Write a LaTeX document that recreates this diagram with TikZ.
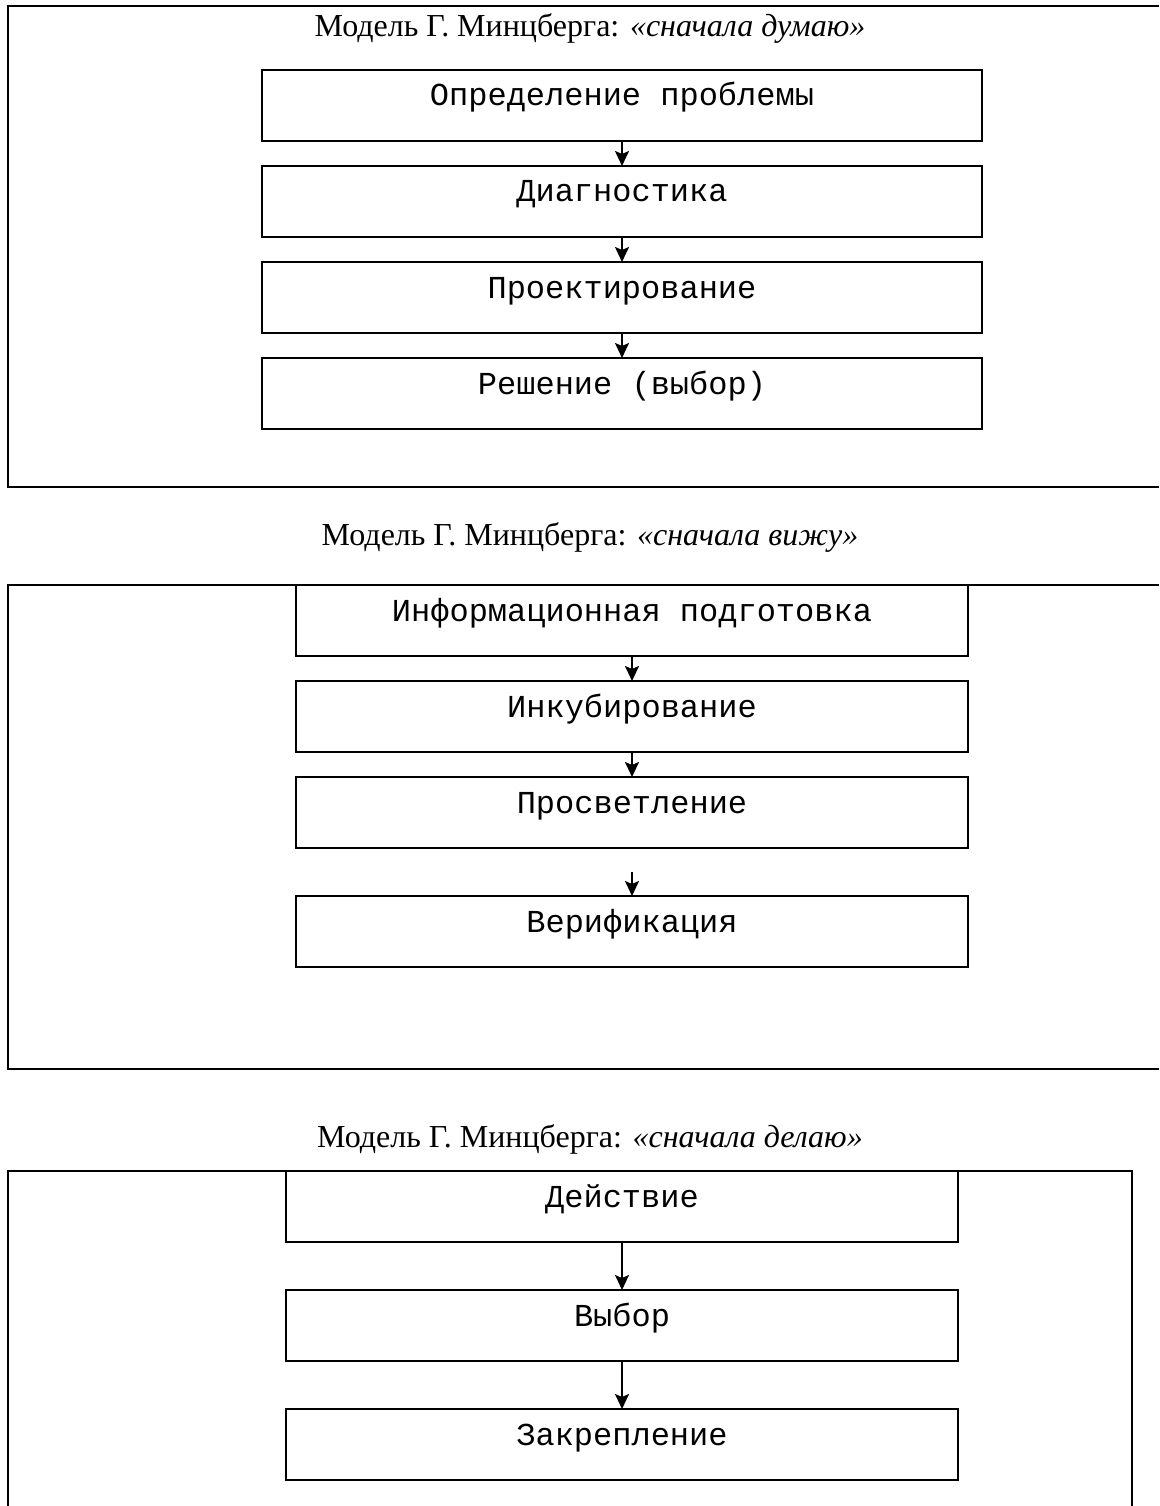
\documentclass[tikz,border=0pt]{standalone}
\usepackage{fontspec}
\setmainfont{Liberation Serif}
\setmonofont{Liberation Mono}
\usetikzlibrary{arrows.meta, positioning}

\begin{document}
\begin{tikzpicture}[
  x=1pt, y=1pt,
  node distance=25pt,
  stagebox/.style={draw, line width=2pt, minimum width=720pt, inner xsep=0pt, inner ysep=0pt, outer sep=0pt,
    text height=36pt, text depth=35pt, anchor=north, font=\fontsize{32}{38}\selectfont\ttfamily},
  heading/.style={anchor=base, inner sep=0pt, font=\fontsize{32}{38}\selectfont},
  frame/.style={line width=2pt},
  arrow/.style={-{Stealth[length=15pt,width=14pt,inset=3pt]}, line width=2pt}
]
\useasboundingbox (0,0) rectangle (1159,-1506);

% first model: think first
\node[heading] (title1) at (590,-37) {Модель Г. Минцберга: \textit{«сначала думаю»}};
\draw[frame] (1159,-6) -| (8,-487) -- (1159,-487);

\node[stagebox] (define) at (622,-70) {Определение проблемы};
\node[stagebox, below=of define] (diag) {Диагностика};
\node[stagebox, below=of diag] (design) {Проектирование};
\node[stagebox, below=of design] (decide) {Решение (выбор)};

\draw[arrow] (define) -- (diag);
\draw[arrow] (diag) -- (design);
\draw[arrow] (design) -- (decide);

% second model: see first
\node[heading] (title2) at (590,-545) {Модель Г. Минцберга: \textit{«сначала вижу»}};
\draw[frame] (1159,-585) -| (8,-1069) -- (1159,-1069);

\node[stagebox, minimum width=672pt] (prep) at (632,-585) {Информационная подготовка};
\node[stagebox, minimum width=672pt, below=of prep] (incub) {Инкубирование};
\node[stagebox, minimum width=672pt, below=of incub] (insight) {Просветление};
\node[stagebox, minimum width=672pt, below=48pt of insight] (verif) {Верификация};
\coordinate (vstart) at ([yshift=24pt]verif.north);

\draw[arrow] (prep) -- (incub);
\draw[arrow] (incub) -- (insight);
\draw[arrow] (vstart) -- (verif);

% third model: do first
\node[heading] (title3) at (590,-1147) {Модель Г. Минцберга: \textit{«сначала делаю»}};
\draw[frame] (8,-1506) |- (1132,-1171) -- (1132,-1506);

\node[stagebox, minimum width=672pt] (act) at (622,-1171) {Действие};
\node[stagebox, minimum width=672pt, below=48pt of act] (choose) {Выбор};
\node[stagebox, minimum width=672pt, below=48pt of choose] (fix) {Закрепление};

\draw[arrow] (act) -- (choose);
\draw[arrow] (choose) -- (fix);
\end{tikzpicture}
\end{document}
